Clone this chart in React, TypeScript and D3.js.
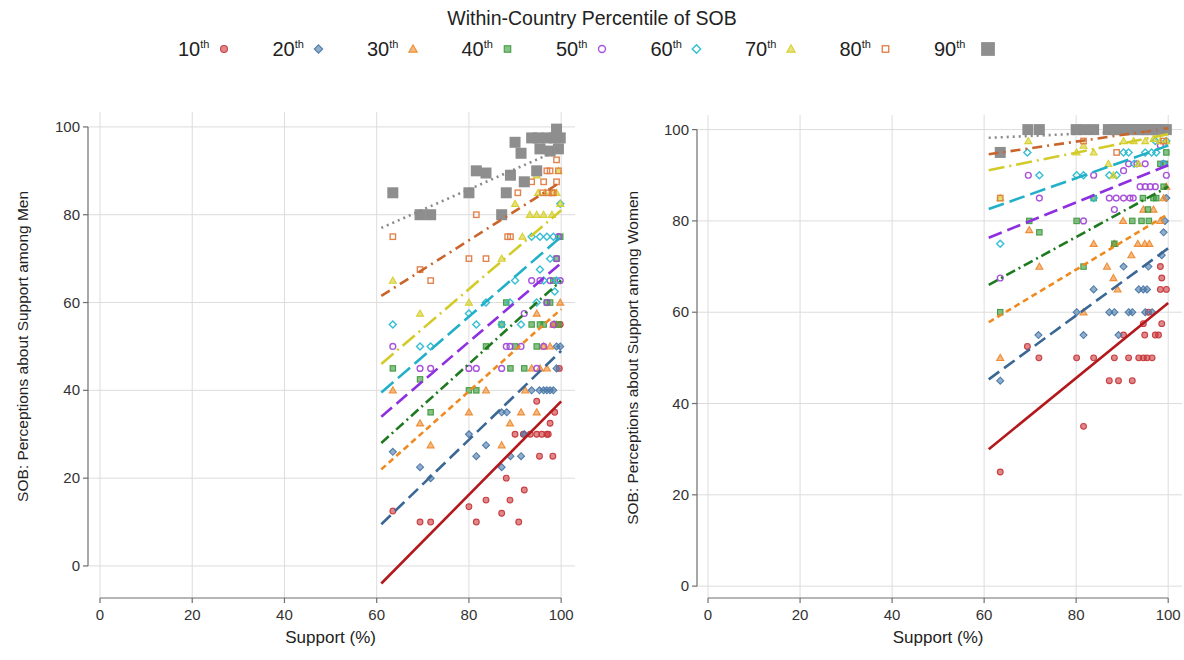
import React from "react";
import * as d3 from "d3";

// ---------- DATA ----------
const percentiles = ["10", "20", "30", "40", "50", "60", "70", "80", "90"];
const xTicks = [0, 20, 40, 60, 80, 100];
const yTicks = [0, 20, 40, 60, 80, 100];
const legendTitle = "Within-Country Percentile of SOB";
const xTitle = "Support (%)";
const yTitleMen = "SOB: Perceptions about Support among Men";
const yTitleWomen = "SOB: Perceptions about Support among Women";

// Men panel points [support, perception]
const men10: number[][] = [[63.5,12.5],[69.4,10],[71.7,10],[80,13.5],[81.6,10],[83.7,15],[87.1,12],[88.1,20],[88.9,15],[90.8,10],[92,17.3],[90,30],[91.8,30],[93.3,30],[94.7,30],[95.8,30],[96.9,30],[97.2,30],[95.3,25],[98.2,25],[97.6,32.5],[94.7,37.5],[98.6,35],[99.6,45],[99.8,55]];
const men20: number[][] = [[63.5,26],[69.4,22.5],[71.7,20],[80,30],[81.6,25],[83.7,27.5],[87.1,22.5],[87.1,35],[88.2,35],[89,25],[91.3,25],[92,30],[93.6,40],[95.3,40],[96.2,40],[96.9,40],[97.6,40],[98.3,40],[99,45],[99,50],[99.8,50],[98.5,55]];
const men30: number[][] = [[63.5,40],[69.4,32.5],[71.7,27.5],[80,35],[83.7,40],[87.1,27.5],[88.9,32.5],[91.3,35],[92.2,40],[94.7,35],[94.7,57.5],[95.4,45],[96.2,50],[96.9,45],[97.6,50],[98.3,55],[99,55],[99.8,60],[93.6,45]];
const men40: number[][] = [[63.5,45],[69.4,42.5],[71.7,35],[80,40],[81.6,40],[83.7,50],[87.1,55],[88.1,60],[89,45],[90,50],[92,45],[93.6,55],[94.7,50],[95.4,55],[96.2,55],[96.9,60],[97.6,60],[98.3,65],[99,70],[99.8,75],[99.4,55]];
const men50: number[][] = [[63.5,50],[69.4,45],[71.7,45],[80,45],[81.6,45],[87.1,45],[88.1,50],[88.9,50],[91.3,50],[92,57.5],[93.6,65],[94.7,45],[95.4,65],[96.2,50],[96.9,60],[97.6,65],[98.3,55],[99,70],[99.4,75],[99.8,65]];
const men60: number[][] = [[63.5,55],[69.4,50],[71.7,50],[80,57.5],[81.6,55],[83.7,60],[87.1,55],[88.9,60],[90,65],[91.3,55],[93.6,75],[94.7,60],[95.4,75],[95.4,67.5],[96.2,65],[96.9,75],[97.6,70],[98.3,75],[98.6,62.5],[99,65],[99.8,82.5]];
const men70: number[][] = [[63.5,65],[69.4,57.5],[80,60],[87.1,70],[90,82.5],[91.6,75],[93.2,80],[94.7,80],[94.7,89],[95,85],[96.2,80],[96.5,85],[98,80],[98,85],[99,85],[99.4,90],[99.8,82.5]];
const men80: number[][] = [[63.5,75],[69.4,67.5],[71.7,65],[80,70],[81.6,80],[83.7,70],[88.4,75],[89,75],[90.6,85],[93.6,87.5],[96.2,87.5],[96.9,90],[97.6,90],[98,85],[99,87.5],[99,92.5],[99.4,90],[96,85],[97.2,85],[98.3,85],[99.8,95]];
const men90: number[][] = [[63.5,85],[69.4,80],[71.7,80],[80,85],[81.6,90],[83.7,89.5],[87.1,80],[88.1,85],[89,89],[90,96.5],[91.3,94],[92,87.5],[93.6,97.5],[94.7,90],[95,97.5],[95.4,95],[96.9,97.5],[97.6,94.5],[99,99.5],[99.4,95],[99.8,97.5],[98.5,97.5]];

// Women panel points
const women10: number[][] = [[63.5,25],[69.4,52.5],[71.9,50],[80.1,50],[81.6,35],[83.8,50],[87.2,45],[88.3,50],[89.2,45],[90.3,55],[91.4,50],[92.2,45],[93.6,50],[94.6,50],[94.6,57.5],[94.9,55],[95.4,50],[95.7,60],[96.5,50],[97.2,55],[97.9,55],[98.3,65],[98.6,57.5],[98.6,67.5],[99.6,65],[98.3,70]];
const women20: number[][] = [[63.5,45],[71.8,55],[80.1,60],[81.6,55],[83.8,65],[87.2,60],[88.3,60],[89.2,55],[90.3,70],[91.4,60],[92.2,60],[93.6,65],[94.6,65],[95,60],[95.4,65],[95.7,70],[96.5,60],[98.6,72.5],[99,77.5],[99.3,80],[99.6,85]];
const women30: number[][] = [[63.5,50],[69.8,78],[72,70],[81.6,60],[83.8,75],[86.7,70],[88.1,67.5],[88.3,75],[89,65],[90.2,80],[92,72.5],[93.4,75],[94.6,82.5],[94.9,75],[95.9,75],[96.8,82.5],[98.3,80],[99,85],[99.6,87.5]];
const women40: number[][] = [[63.5,60],[69.8,80],[72,77.5],[80.1,80],[81.6,70],[83.8,85],[88.3,75],[92.2,80],[94.2,80],[94.5,85],[95.6,82.5],[95.8,80],[96.8,85],[97.4,85],[98.3,92.5],[99,87.5],[99.3,92.5],[99.6,95]];
const women50: number[][] = [[63.5,67.5],[69.6,90],[72,85],[81.6,80],[83.8,90],[87.2,85],[88.3,82.5],[88.7,85],[90.3,91],[90.3,85],[91.4,92.5],[91.7,85],[92.4,85],[93.2,92.5],[93.9,87.5],[95,87.5],[95,92.5],[96.1,87.5],[97.2,87.5],[98.3,96.5],[99,92.5],[99.6,90]];
const women60: number[][] = [[63.5,75],[69.4,95],[72,90],[80.1,90],[81.6,90],[83.8,85],[87.2,90],[88.8,90],[90.3,95],[91.4,95],[92.6,92.5],[95,95],[96.4,95],[97.2,97.5],[97.4,95],[99,92.5],[99.6,97.5],[98.6,100]];
const women70: number[][] = [[63.5,85],[69.6,97.5],[80.1,95],[81.6,96.5],[83.8,95],[87,92.5],[88.1,90],[90.3,97.5],[92.5,97.5],[93.5,92.5],[95,97.5],[96.8,98],[97.5,100],[98.3,97.5],[99,100],[99.6,97.5]];
const women80: number[][] = [[63.5,85],[69.4,100],[72,100],[80.1,100],[81.6,97.5],[83.8,100],[88.8,95],[90.3,100],[92.5,100],[94.6,100],[96,100],[97.4,100],[98.3,100],[99,97.5],[99.6,100]];
const women90: number[][] = [[63.5,95],[69.5,100],[72,100],[80,100],[81.6,100],[83.8,100],[87,100],[88.3,100],[89.2,100],[90.3,100],[91.4,100],[92.2,100],[93.6,100],[94.6,100],[95.4,100],[96.5,100],[97.5,100],[98.6,100],[99.6,100]];

// Fitted lines: value at support = 61 and at support = 100
const fitRange = [61, 100];
const menFitStart = [-4, 9.5, 22, 28, 34, 39.5, 46, 61.5, 77];
const menFitEnd = [37.5, 49, 58.5, 65, 69, 75, 81, 87.5, 95];
const womenFitStart = [30, 45.3, 57.8, 66, 76.3, 82.6, 91.1, 94.6, 98.2];
const womenFitEnd = [62, 74, 81.5, 87.5, 92.2, 96.5, 99, 100.3, 100];

// ---------- STYLE ----------
const markerColor = ["#c8383c", "#4a78a8", "#ee8a2e", "#3b9a3b", "#a24ad8", "#2bbad2", "#d6cf2a", "#e07d45", "#8e8e8e"];
const lineColor = ["#b3191c", "#3a6794", "#ef8a20", "#1f7a1f", "#8e2fe0", "#22b0c8", "#d2cb2a", "#c9642c", "#8a8a8a"];
const dashes = ["", "13,6", "6,4", "10,4,2,4", "14,6", "16,6", "16,5,2,5", "10,5,2,5", "2,4"];
const FONT = "'Liberation Sans', Arial, Helvetica, sans-serif";

type Shape = "circle" | "diamond" | "triangle" | "square" | "bigsquare";
const shapes: Shape[] = ["circle", "diamond", "triangle", "square", "circle", "diamond", "triangle", "square", "bigsquare"];
const hollow = [false, false, false, false, true, true, false, true, false];

function Marker({ x, y, i, scale = 1 }: { x: number; y: number; i: number; scale?: number }) {
  const c = markerColor[i];
  const sh = shapes[i];
  const fill = hollow[i] ? "none" : c;
  const fo = hollow[i] ? 0 : (i === 8 ? 1 : 0.6);
  const common = { fill, fillOpacity: fo, stroke: c, strokeWidth: hollow[i] ? 1.4 : 1.1, strokeOpacity: i === 8 ? 0 : 0.95 } as any;
  if (sh === "circle") return <circle cx={x} cy={y} r={2.9 * scale} {...common} />;
  if (sh === "diamond") {
    const r = 3.5 * scale;
    return <path d={`M${x},${y - r}L${x + r},${y}L${x},${y + r}L${x - r},${y}Z`} {...common} />;
  }
  if (sh === "triangle") {
    const r = 3.5 * scale;
    return <path d={`M${x},${y - r}L${x + r},${y + r * 0.75}L${x - r},${y + r * 0.75}Z`} {...common} />;
  }
  if (sh === "square") {
    const r = 2.7 * scale;
    return <rect x={x - r} y={y - r} width={2 * r} height={2 * r} {...common} />;
  }
  const r = 5.5 * scale;
  return <rect x={x - r} y={y - r} width={2 * r} height={2 * r} fill={c} />;
}

type PanelCfg = {
  xRange: [number, number];
  xDomain: [number, number];
  yRange: [number, number];
  yDomain: [number, number];
  series: number[][][];
  fitStart: number[];
  fitEnd: number[];
  yTitle: string;
  yTitleX: number;
};

const panels: PanelCfg[] = [
  {
    xRange: [88, 575], xDomain: [-2.6, 103], yRange: [598, 112], yDomain: [-7.3, 103.4],
    series: [men10, men20, men30, men40, men50, men60, men70, men80, men90],
    fitStart: menFitStart, fitEnd: menFitEnd, yTitle: yTitleMen, yTitleX: 28,
  },
  {
    xRange: [697, 1182], xDomain: [-2.4, 103], yRange: [598, 115], yDomain: [-2.6, 103.2],
    series: [women10, women20, women30, women40, women50, women60, women70, women80, women90],
    fitStart: womenFitStart, fitEnd: womenFitEnd, yTitle: yTitleWomen, yTitleX: 638,
  },
];

function Panel({ cfg }: { cfg: PanelCfg }) {
  const x = d3.scaleLinear().domain(cfg.xDomain).range(cfg.xRange);
  const y = d3.scaleLinear().domain(cfg.yDomain).range(cfg.yRange);
  const [x0, x1] = cfg.xRange;
  const [yb, yt] = cfg.yRange;
  const axisX = x0;
  const line = d3.line<number[]>().x((d) => x(d[0])).y((d) => y(d[1]));
  const axisColor = "#6e6e6e";
  return (
    <g>
      {yTicks.map((t) => (
        <line key={"gy" + t} x1={x0} x2={x1} y1={y(t)} y2={y(t)} stroke="#dcdcdc" strokeWidth={1} />
      ))}
      {xTicks.map((t) => (
        <line key={"gx" + t} x1={x(t)} x2={x(t)} y1={yt} y2={yb} stroke="#dcdcdc" strokeWidth={1} />
      ))}
      <line x1={axisX} x2={axisX} y1={y(0)} y2={y(100)} stroke={axisColor} strokeWidth={1.2} />
      {yTicks.map((t) => (
        <g key={"yt" + t}>
          <line x1={axisX - 5} x2={axisX} y1={y(t)} y2={y(t)} stroke={axisColor} strokeWidth={1.2} />
          <text x={axisX - 8} y={y(t) + 5} textAnchor="end" fontSize={15} fill="#333" fontFamily={FONT}>{t}</text>
        </g>
      ))}
      <line x1={x(0)} x2={x(100)} y1={yb} y2={yb} stroke={axisColor} strokeWidth={1.2} />
      {xTicks.map((t) => (
        <g key={"xt" + t}>
          <line x1={x(t)} x2={x(t)} y1={yb} y2={yb + 5} stroke={axisColor} strokeWidth={1.2} />
          <text x={x(t)} y={yb + 22} textAnchor="middle" fontSize={15} fill="#333" fontFamily={FONT}>{t}</text>
        </g>
      ))}
      <text x={(x(0) + x(100)) / 2} y={643} textAnchor="middle" fontSize={17} fill="#222" fontFamily={FONT}>{xTitle}</text>
      <text transform={`translate(${cfg.yTitleX},${(y(0) + y(100)) / 2}) rotate(-90)`} textAnchor="middle" fontSize={15.5} fill="#222" fontFamily={FONT}>{cfg.yTitle}</text>
      {cfg.series.map((pts, i) => (
        <g key={"s" + i}>
          {pts.map((p, j) => <Marker key={j} x={x(p[0])} y={y(p[1])} i={i} />)}
        </g>
      ))}
      {cfg.fitStart.map((s, i) => (
        <path key={"l" + i} d={line([[fitRange[0], s], [fitRange[1], cfg.fitEnd[i]]]) || ""}
          stroke={lineColor[i]} strokeWidth={2.6} fill="none" strokeDasharray={dashes[i] || undefined} />
      ))}
    </g>
  );
}

function Legend() {
  return (
    <g fontFamily={FONT}>
      <text x={592} y={25} textAnchor="middle" fontSize={19.5} fill="#222">{legendTitle}</text>
      {percentiles.map((p, i) => {
        const lx = 178 + i * 94.5;
        const mx = lx + (i === 8 ? 54 : 46);
        return (
          <g key={p}>
            <text x={lx} y={56} fontSize={20} fill="#222">
              {p}
              <tspan dy={-8} fontSize={11}>th</tspan>
            </text>
            <Marker x={mx} y={49} i={i} scale={i === 8 ? 1.25 : 1.2} />
          </g>
        );
      })}
    </g>
  );
}

export default function App() {
  return (
    <svg width={1184} height={660} style={{ position: "absolute", left: 0, top: 0, background: "#fff" }}>
      <rect x={0} y={0} width={1184} height={660} fill="#fff" />
      <Legend />
      {panels.map((p, i) => <Panel key={i} cfg={p} />)}
    </svg>
  );
}
